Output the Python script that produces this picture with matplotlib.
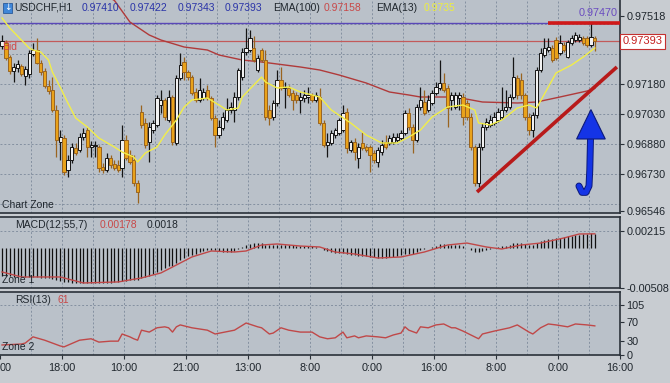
import matplotlib
matplotlib.use("Agg")
import matplotlib.pyplot as plt
import matplotlib.patheffects as pe
from matplotlib.patches import Rectangle, Polygon
from matplotlib.transforms import blended_transform_factory

W, H = 670, 383

# ---- price bars (H1) ----
opens = [
    0.97370, 0.97385, 0.97315, 0.97245, 0.97260, 0.97270, 0.97220, 0.97230, 0.97330, 0.97350,
    0.97285, 0.97245, 0.97170, 0.97150, 0.97050, 0.96890, 0.96910, 0.96750, 0.96800, 0.96860,
    0.96850, 0.96915, 0.96950, 0.96865, 0.96870, 0.96865, 0.96765, 0.96750, 0.96810, 0.96780,
    0.96775, 0.96760, 0.96900, 0.96825, 0.96800, 0.96685, 0.97040, 0.96985, 0.96890, 0.96950,
    0.96975, 0.97075, 0.97100, 0.97000, 0.97115, 0.96885, 0.97210, 0.97290, 0.97240, 0.97215,
    0.97140, 0.97100, 0.97110, 0.97150, 0.97110, 0.97010, 0.96925, 0.96960, 0.97000, 0.97050,
    0.97050, 0.97115, 0.97215, 0.97340, 0.97350, 0.97360, 0.97250, 0.97350, 0.97300, 0.97050,
    0.97015, 0.97085, 0.97200, 0.97160, 0.97160, 0.97135, 0.97125, 0.97100, 0.97110, 0.97115,
    0.97125, 0.97100, 0.97115, 0.96985, 0.96875, 0.96885, 0.96925, 0.96935, 0.96950, 0.97040,
    0.96850, 0.96890, 0.96810, 0.96885, 0.96865, 0.96865, 0.96835, 0.96790, 0.96840, 0.96890,
    0.96885, 0.96890, 0.96900, 0.96910, 0.96935, 0.97035, 0.96965, 0.96900, 0.97065, 0.97090,
    0.97050, 0.97085, 0.97135, 0.97160, 0.97185, 0.97160, 0.97100, 0.97065, 0.97110, 0.97115,
    0.97085, 0.97015, 0.96865, 0.96685, 0.96865, 0.96965, 0.96975, 0.96985, 0.97000, 0.97015,
    0.97050, 0.97065, 0.97115, 0.97210, 0.97200, 0.97125, 0.97015, 0.96950, 0.97025, 0.97250,
    0.97325, 0.97350, 0.97360, 0.97400, 0.97335, 0.97375, 0.97315, 0.97385, 0.97400, 0.97400,
    0.97410, 0.97410, 0.97375, 0.97410,
]
highs = [
    0.97425, 0.97400, 0.97325, 0.97285, 0.97300, 0.97280, 0.97270, 0.97350, 0.97385, 0.97410,
    0.97300, 0.97260, 0.97200, 0.97215, 0.97075, 0.96950, 0.96925, 0.96825, 0.96885, 0.96885,
    0.96935, 0.96960, 0.96965, 0.96895, 0.96895, 0.96875, 0.96785, 0.96835, 0.96825, 0.96800,
    0.96800, 0.96975, 0.96925, 0.96850, 0.96825, 0.96700, 0.97075, 0.97010, 0.96990, 0.97000,
    0.97125, 0.97150, 0.97110, 0.97150, 0.97125, 0.97225, 0.97335, 0.97315, 0.97250, 0.97225,
    0.97160, 0.97210, 0.97160, 0.97175, 0.97120, 0.97025, 0.97000, 0.97040, 0.97110, 0.97090,
    0.97140, 0.97260, 0.97360, 0.97460, 0.97450, 0.97420, 0.97325, 0.97360, 0.97350, 0.97075,
    0.97100, 0.97250, 0.97265, 0.97190, 0.97175, 0.97150, 0.97140, 0.97140, 0.97150, 0.97165,
    0.97135, 0.97140, 0.97160, 0.97000, 0.96935, 0.96950, 0.96960, 0.97010, 0.97075, 0.97060,
    0.96900, 0.96910, 0.96885, 0.96940, 0.96875, 0.96875, 0.96850, 0.96865, 0.96900, 0.96925,
    0.96925, 0.96935, 0.96935, 0.96950, 0.97050, 0.97060, 0.96980, 0.97080, 0.97165, 0.97150,
    0.97125, 0.97150, 0.97190, 0.97300, 0.97235, 0.97175, 0.97140, 0.97140, 0.97140, 0.97135,
    0.97100, 0.97035, 0.96875, 0.96885, 0.96985, 0.97010, 0.97025, 0.97040, 0.97060, 0.97165,
    0.97150, 0.97130, 0.97315, 0.97225, 0.97235, 0.97135, 0.97035, 0.97040, 0.97265, 0.97360,
    0.97410, 0.97410, 0.97375, 0.97415, 0.97425, 0.97390, 0.97400, 0.97425, 0.97440, 0.97430,
    0.97420, 0.97420, 0.97485, 0.97422,
]
lows = [
    0.97355, 0.97300, 0.97230, 0.97190, 0.97240, 0.97220, 0.97175, 0.97210, 0.97320, 0.97280,
    0.97225, 0.97160, 0.97130, 0.97040, 0.96815, 0.96800, 0.96725, 0.96715, 0.96785, 0.96825,
    0.96840, 0.96900, 0.96815, 0.96815, 0.96815, 0.96740, 0.96735, 0.96740, 0.96760, 0.96750,
    0.96740, 0.96715, 0.96800, 0.96780, 0.96670, 0.96585, 0.96960, 0.96860, 0.96790, 0.96935,
    0.96965, 0.97035, 0.97000, 0.96990, 0.96875, 0.96875, 0.97200, 0.97200, 0.97200, 0.97125,
    0.97090, 0.97090, 0.97100, 0.97100, 0.97000, 0.96865, 0.96910, 0.96950, 0.96990, 0.97035,
    0.96990, 0.97100, 0.97200, 0.97325, 0.97340, 0.97290, 0.97240, 0.97290, 0.97000, 0.96975,
    0.97000, 0.97070, 0.97150, 0.97060, 0.97115, 0.97050, 0.97085, 0.97035, 0.97090, 0.97085,
    0.97090, 0.97090, 0.96975, 0.96865, 0.96815, 0.96875, 0.96910, 0.96925, 0.96940, 0.96835,
    0.96840, 0.96800, 0.96760, 0.96850, 0.96840, 0.96740, 0.96785, 0.96765, 0.96825, 0.96855,
    0.96875, 0.96880, 0.96890, 0.96900, 0.96925, 0.96950, 0.96835, 0.96890, 0.97050, 0.97025,
    0.97040, 0.97075, 0.97125, 0.97150, 0.97140, 0.96965, 0.97050, 0.97055, 0.97050, 0.96975,
    0.97000, 0.96850, 0.96670, 0.96665, 0.96850, 0.96950, 0.96965, 0.96975, 0.96990, 0.97005,
    0.97040, 0.97055, 0.97105, 0.97105, 0.97105, 0.97000, 0.96925, 0.96915, 0.97010, 0.97240,
    0.97315, 0.97340, 0.97290, 0.97300, 0.97325, 0.97340, 0.97310, 0.97375, 0.97390, 0.97390,
    0.97375, 0.97365, 0.97365, 0.97343,
]
closes = [
    0.97395, 0.97310, 0.97245, 0.97265, 0.97280, 0.97230, 0.97255, 0.97335, 0.97350, 0.97285,
    0.97240, 0.97170, 0.97145, 0.97050, 0.96900, 0.96915, 0.96740, 0.96800, 0.96865, 0.96835,
    0.96915, 0.96935, 0.96865, 0.96875, 0.96875, 0.96760, 0.96750, 0.96810, 0.96775, 0.96760,
    0.96750, 0.96900, 0.96810, 0.96790, 0.96685, 0.96640, 0.96975, 0.96875, 0.96965, 0.96985,
    0.97110, 0.97100, 0.97015, 0.97115, 0.96890, 0.97210, 0.97275, 0.97240, 0.97215, 0.97135,
    0.97100, 0.97150, 0.97140, 0.97110, 0.97010, 0.96925, 0.96965, 0.97015, 0.97050, 0.97065,
    0.97115, 0.97250, 0.97340, 0.97360, 0.97410, 0.97300, 0.97310, 0.97300, 0.97015, 0.97010,
    0.97085, 0.97200, 0.97160, 0.97165, 0.97125, 0.97100, 0.97100, 0.97115, 0.97125, 0.97125,
    0.97100, 0.97125, 0.96985, 0.96875, 0.96890, 0.96935, 0.96950, 0.97000, 0.97035, 0.96860,
    0.96890, 0.96840, 0.96865, 0.96860, 0.96850, 0.96825, 0.96800, 0.96850, 0.96875, 0.96865,
    0.96910, 0.96915, 0.96915, 0.96935, 0.97035, 0.96965, 0.96900, 0.97065, 0.97100, 0.97035,
    0.97100, 0.97135, 0.97165, 0.97185, 0.97150, 0.97060, 0.97125, 0.97125, 0.97125, 0.97015,
    0.97015, 0.96865, 0.96685, 0.96865, 0.96965, 0.96990, 0.97000, 0.97015, 0.97040, 0.97050,
    0.97065, 0.97115, 0.97215, 0.97125, 0.97125, 0.97015, 0.96950, 0.97025, 0.97250, 0.97335,
    0.97360, 0.97365, 0.97300, 0.97310, 0.97385, 0.97350, 0.97390, 0.97410, 0.97425, 0.97415,
    0.97385, 0.97375, 0.97415, 0.97393,
]

# moving averages, read as vertices (bar index, price)
ema100_idx = [26, 29, 33, 38, 41, 47, 53, 56, 62, 67, 77, 82, 87, 94, 100, 105, 108, 117, 124, 133, 138, 144, 151, 153]
ema100_val = [0.97630, 0.97598, 0.97490, 0.97425, 0.97400, 0.97365, 0.97350, 0.97325, 0.97300, 0.97290,
              0.97265, 0.97250, 0.97225, 0.97185, 0.97140, 0.97125, 0.97115, 0.97115, 0.97090, 0.97085,
              0.97090, 0.97115, 0.97145, 0.97158]
ema13_idx = [0, 2, 5, 7, 8, 10, 12, 13, 15, 17, 19, 22, 25, 29, 31, 34, 35, 37, 40, 42, 45, 47, 49, 53,
             56, 58, 61, 62, 65, 67, 68, 71, 74, 77, 82, 85, 90, 94, 98, 102, 105, 108, 111, 115, 119,
             122, 123, 126, 129, 133, 136, 138, 141, 143, 147, 150, 153]
ema13_val = [0.97510, 0.97460, 0.97400, 0.97360, 0.97350, 0.97340, 0.97300, 0.97240, 0.97165, 0.97085,
             0.97010, 0.96965, 0.96910, 0.96865, 0.96840, 0.96815, 0.96790, 0.96835, 0.96865, 0.96925,
             0.97000, 0.97065, 0.97100, 0.97110, 0.97075, 0.97050, 0.97060, 0.97115, 0.97175, 0.97215,
             0.97190, 0.97160, 0.97165, 0.97140, 0.97115, 0.97050, 0.96985, 0.96925, 0.96885, 0.96885,
             0.96915, 0.96950, 0.97015, 0.97065, 0.97075, 0.97050, 0.96985, 0.96975, 0.97000, 0.97060,
             0.97075, 0.97060, 0.97165, 0.97235, 0.97275, 0.97315, 0.97360]

# MACD(12,55,7): main histogram per bar, signal line vertices
macd_hist = [
    -0.00355, -0.00355, -0.00355, -0.00368, -0.00368, -0.00368, -0.00368, -0.00368, -0.00368, -0.00368,
    -0.00380, -0.00380, -0.00380, -0.00393, -0.00406, -0.00418, -0.00431, -0.00431, -0.00444, -0.00444,
    -0.00444, -0.00444, -0.00444, -0.00444, -0.00444, -0.00444, -0.00444, -0.00444, -0.00444, -0.00431,
    -0.00431, -0.00418, -0.00418, -0.00406, -0.00406, -0.00406, -0.00380, -0.00368, -0.00355, -0.00330,
    -0.00304, -0.00279, -0.00254, -0.00228, -0.00228, -0.00190, -0.00152, -0.00127, -0.00101, -0.00089,
    -0.00076, -0.00051, -0.00038, -0.00025, -0.00025, -0.00025, -0.00038, -0.00051, -0.00051, -0.00051,
    -0.00038, -0.00013, 0.00013, 0.00038, 0.00051, 0.00063, 0.00063, 0.00063, 0.00038, 0.00038,
    0.00038, 0.00038, 0.00038, 0.00038, 0.00038, 0.00038, 0.00025, 0.00025, 0.00025, 0.00025,
    0.00025, 0.00013, 0.00000, -0.00025, -0.00038, -0.00051, -0.00063, -0.00063, -0.00063, -0.00076,
    -0.00089, -0.00089, -0.00101, -0.00101, -0.00101, -0.00114, -0.00114, -0.00127, -0.00127, -0.00127,
    -0.00114, -0.00114, -0.00101, -0.00089, -0.00076, -0.00076, -0.00076, -0.00051, -0.00025, -0.00013,
    0.00000, 0.00013, 0.00025, 0.00051, 0.00051, 0.00038, 0.00038, 0.00038, 0.00038, 0.00025,
    0.00000, -0.00025, -0.00051, -0.00051, -0.00038, -0.00025, -0.00013, 0.00000, 0.00013, 0.00025,
    0.00025, 0.00038, 0.00063, 0.00063, 0.00063, 0.00051, 0.00038, 0.00038, 0.00063, 0.00089,
    0.00101, 0.00114, 0.00114, 0.00127, 0.00127, 0.00139, 0.00152, 0.00152, 0.00165, 0.00165,
    0.00178, 0.00178, 0.00190, 0.00178,
]
signal_idx = [0, 5, 15, 21, 30, 36, 41, 45, 49, 54, 60, 63, 67, 71, 77, 82, 86, 91, 97, 103, 109,
              115, 120, 125, 129, 134, 139, 145, 149, 153]
signal_val = [-0.00304, -0.00368, -0.00368, -0.00444, -0.00431, -0.00380, -0.00317, -0.00216, -0.00114,
              -0.00038, -0.00051, -0.00038, 0.00038, 0.00051, 0.00025, 0.00013, -0.00051, -0.00076,
              -0.00127, -0.00114, -0.00051, 0.00038, 0.00063, 0.00013, -0.00013, 0.00038, 0.00063,
              0.00127, 0.00178, 0.00180]

# RSI(13) vertices
rsi_idx = [0, 5, 6, 8, 11, 13, 15, 16, 20, 23, 25, 28, 30, 31, 33, 34, 35, 36, 38, 40, 42, 43, 44, 45,
           46, 49, 53, 55, 60, 63, 66, 67, 69, 70, 72, 74, 77, 80, 82, 84, 86, 88, 89, 91, 92, 94, 97,
           99, 101, 103, 104, 105, 107, 108, 110, 112, 114, 116, 117, 119, 121, 123, 124, 127, 131,
           133, 136, 137, 139, 141, 143, 146, 148, 151, 153]
rsi_val = [21, 23, 25, 38, 31, 25, 19, 17, 31, 34, 27, 29, 29, 44, 38, 34, 31, 52, 48, 57, 59, 57, 48, 59,
           63, 57, 52, 44, 52, 67, 59, 57, 44, 46, 57, 52, 48, 48, 38, 34, 36, 48, 36, 40, 36, 40, 38,
           36, 42, 46, 59, 52, 46, 59, 57, 63, 65, 57, 57, 50, 42, 34, 44, 50, 57, 63, 48, 44, 57, 65,
           63, 59, 65, 63, 61]

price_ticks = [0.97518, 0.97180, 0.97030, 0.96880, 0.96730, 0.96546]
price_grid = [0.96580, 0.96730, 0.96880, 0.97030, 0.97180, 0.97330, 0.97480]
# first label is cut by the left edge in the source; only "00" shows
time_labels = ["00", "18:00", "10:00", "21:00", "13:00", "8:00", "0:00", "16:00", "8:00", "0:00", "16:00"]

BG = "#c8ccd1"
PANEL = "#bac1c9"
INK = "#1f262d"
GRID = "#8490a0"
UP_EDGE, UP_FILL = "#141414", "#f2f2f2"
DN_EDGE, DN_FILL = "#9a6420", "#e9a21a"

plt.rcParams["font.family"] = ["Liberation Sans", "DejaVu Sans"]

fig = plt.figure(figsize=(W / 100, H / 100), dpi=100, facecolor=BG)


def px_axes(x0, y0, x1, y1):
    return fig.add_axes([x0 / W, 1 - y1 / H, (x1 - x0) / W, (y1 - y0) / H])


def ftext(x, y, s, **kw):
    kw.setdefault("fontsize", 7.5)
    fig.text(x / W, 1 - y / H, s, va="center", ha=kw.pop("ha", "left"), **kw)


main = px_axes(0, 0, 620, 213.5)
macd = px_axes(0, 216.5, 620, 288)
rsi = px_axes(0, 291.5, 620, 355)

xlim = (-0.52, 159.5)
vgrid = [-0.5 + 8 * k for k in range(1, 20)]
for ax in (main, macd, rsi):
    ax.set_facecolor(PANEL)
    ax.set_xlim(*xlim)
    ax.spines["left"].set_visible(False)
    for side in ("top", "bottom", "right"):
        ax.spines[side].set_color("#2a3139")
        ax.spines[side].set_linewidth(1.2)
    for xv in vgrid:
        ax.axvline(xv, color=GRID, lw=0.7, ls=(0, (2, 2)), zorder=0)
    ax.yaxis.tick_right()
    ax.tick_params(axis="y", length=3, width=0.8, color="#2a3139", labelsize=7.8,
                   labelcolor=INK, pad=1.5)
    ax.set_xticks([])
main.spines["top"].set_visible(False)

# ---- main price panel ----
main.set_ylim(0.965325, 0.97600)
for yv in price_grid:
    main.axhline(yv, color=GRID, lw=0.7, ls=(0, (2, 2)), zorder=0)
main.set_yticks(price_ticks)
main.set_yticklabels([f"{v:.5f}" for v in price_ticks])

main.axhline(0.97485, color="#5a48b8", lw=1.0, zorder=1)
main.axhline(0.97393, color="#c25a5a", lw=0.9, zorder=1)

main.plot(ema100_idx, ema100_val, color="#b03a3a", lw=1.0, zorder=2)

for i, (o, h, l, c) in enumerate(zip(opens, highs, lows, closes)):
    up = c >= o
    main.vlines(i, l, h, color=UP_EDGE if up else DN_EDGE, lw=0.9, zorder=3)
    body = max(abs(c - o), 0.00002)
    main.add_patch(Rectangle((i - 0.42, min(o, c)), 0.84, body,
                             fc=UP_FILL if up else DN_FILL,
                             ec=UP_EDGE if up else DN_EDGE, lw=0.7, zorder=4))

main.plot(ema13_idx, ema13_val, color="#f2ee48", lw=1.0, zorder=5)

# annotations drawn on the chart
main.plot([122.6, 158.7], [0.96640, 0.97265], color="#b81a1a", lw=2.6,
          solid_capstyle="butt", zorder=6)
main.plot([141, 159.5], [0.97485, 0.97485], color="#d01818", lw=2.6,
          solid_capstyle="butt", zorder=6, clip_on=False)
main.text(158.8, 0.97535, "0.97470", color="#6a4cc0", fontsize=7.8, ha="right",
          va="center", zorder=6)
main.plot([151.9, 151.7, 151.5, 150.7, 149.7, 148.9],
          [0.96915, 0.96750, 0.96670, 0.96638, 0.96638, 0.96670],
          color="#1434e6", lw=3.6, solid_capstyle="round", zorder=7,
          path_effects=[pe.Stroke(linewidth=5.0, foreground="#0c1a7a"), pe.Normal()])
main.add_patch(Polygon([(152.0, 0.97052), (148.3, 0.96905), (155.7, 0.96905)],
                       closed=True, fc="#1434e6", ec="#0c1a7a", lw=0.8, zorder=8))

trans = blended_transform_factory(main.transAxes, main.transData)
main.text(1.004, 0.97393, "0.97393", transform=trans, color="#c42020", fontsize=8,
          va="center", ha="left", clip_on=False,
          bbox=dict(boxstyle="square,pad=0.22", fc="white", ec="#c43030", lw=0.8))

# ---- MACD panel ----
macd.set_ylim(-0.00508, 0.00400)
macd.axhline(0.00215, color=GRID, lw=0.7, ls=(0, (2, 2)), zorder=0)
macd.vlines(range(len(macd_hist)), 0, macd_hist, color="#111111", lw=0.9, zorder=2)
macd.plot(signal_idx, signal_val, color="#c04848", lw=1.0, zorder=3)
macd.set_yticks([0.00215, -0.00508])
macd.set_yticklabels(["0.00215", "-0.00508"])

# ---- RSI panel ----
rsi.set_ylim(0, 133)
rsi.axhline(105, color=GRID, lw=0.7, ls=(0, (2, 2)), zorder=0)
rsi.plot(rsi_idx, rsi_val, color="#c04848", lw=1.0, zorder=3)
rsi.set_yticks([105, 70, 30, 0])
rsi.set_yticklabels(["105", "70", "30", "0"])
rsi.set_xticks([-0.5 + 16 * k for k in range(len(time_labels))])
rsi.set_xticklabels(time_labels)
rsi.get_xticklabels()[0].set_horizontalalignment("left")
rsi.tick_params(axis="x", length=3, width=0.8, color="#2a3139", labelsize=7.8,
                labelcolor=INK, pad=3)

# ---- header and zone labels ----
fig.patches.append(Rectangle((3 / W, 1 - 13 / H), 9 / W, 10 / H, transform=fig.transFigure,
                             fc="#3f86d8", ec="#2a5a9a", lw=0.6))
ftext(7.5, 8, "↓", color="white", fontsize=6.5, ha="center", family="DejaVu Sans")
ftext(14, 8, "USDCHF,H1", color=INK)
for x, s in [(82, "0.97410"), (130, "0.97422"), (178, "0.97343"), (225, "0.97393")]:
    ftext(x, 8, s, color="#2a34a8")
ftext(273, 8, "EMA(100)", color=INK)
ftext(324, 8, "0.97158", color="#c84848")
ftext(376, 8, "EMA(13)", color=INK)
ftext(424, 8, "0.9735", color="#eded40")
ftext(2, 47, "Bid", color="#d04848")
ftext(2, 205, "Chart Zone", color=INK)
ftext(15, 225, "MACD(12,55,7)", color=INK)
ftext(100, 225, "0.00178", color="#c84848")
ftext(147, 225, "0.0018", color=INK)
ftext(2, 280, "Zone 1", color=INK)
ftext(15, 300, "RSI(13)", color=INK)
ftext(57, 300, "61", color="#c84848")
ftext(2, 347, "Zone 2", color=INK)

fig.savefig("out.png", dpi=100, facecolor=BG)
